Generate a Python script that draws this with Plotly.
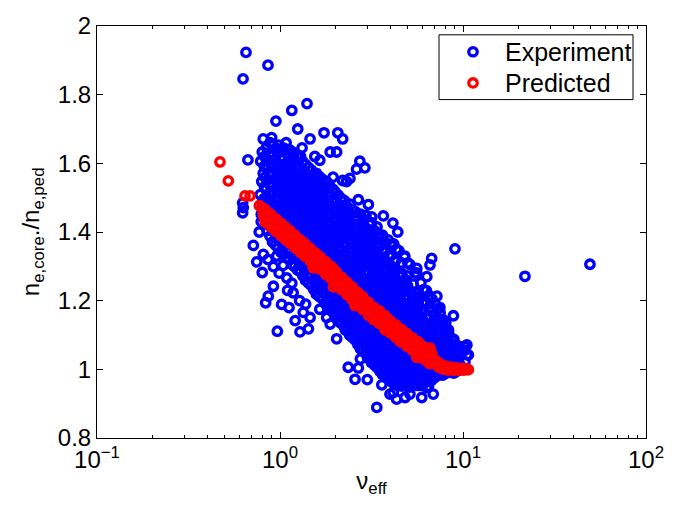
import plotly.graph_objects as go

# Measured core-to-pedestal density ratio versus effective collisionality
exp_nu = [
    0.79, 0.80, 0.78, 0.795, 0.81, 0.785, 0.80,
    0.85, 0.845, 0.86, 0.85, 0.84, 0.855, 0.85, 0.865, 0.845,
    0.91, 0.92, 0.905, 0.915, 0.91, 0.925, 0.90, 0.915, 0.91, 0.92, 0.905,
    0.975, 0.98, 0.97, 0.985, 0.975, 0.97, 0.98, 0.99, 0.975, 0.98, 0.97, 0.985,
    1.05, 1.04, 1.055, 1.045, 1.05, 1.06, 1.04, 1.05, 1.045, 1.055, 1.04, 1.05,
    1.12, 1.13, 1.115, 1.125, 1.12, 1.11, 1.13, 1.12, 1.125, 1.115, 1.13, 1.12, 1.125,
    1.20, 1.21, 1.195, 1.20, 1.21, 1.19, 1.205, 1.20, 1.21, 1.195, 1.20, 1.205, 1.20,
    1.29, 1.28, 1.30, 1.285, 1.29, 1.295, 1.28, 1.29, 1.30, 1.285, 1.29, 1.28, 1.295,
    1.38, 1.37, 1.39, 1.38, 1.375, 1.385, 1.38, 1.37, 1.39, 1.38, 1.375, 1.385, 1.38,
    1.48, 1.47, 1.49, 1.475, 1.48, 1.485, 1.47, 1.48, 1.49, 1.475, 1.48, 1.47, 1.485,
    1.58, 1.59, 1.575, 1.585, 1.59, 1.58, 1.60, 1.585, 1.575, 1.59, 1.58, 1.585, 1.595, 1.58,
    1.70, 1.69, 1.71, 1.70, 1.695, 1.705, 1.70, 1.69, 1.71, 1.70, 1.695, 1.705, 1.70, 1.69,
    1.82, 1.81, 1.83, 1.82, 1.815, 1.825, 1.82, 1.81, 1.83, 1.82, 1.815, 1.825, 1.82, 1.81,
    1.95, 1.94, 1.96, 1.95, 1.945, 1.955, 1.95, 1.94, 1.96, 1.95, 1.945, 1.955, 1.95, 1.96,
    2.09, 2.08, 2.10, 2.09, 2.085, 2.095, 2.09, 2.08, 2.10, 2.09, 2.085, 2.095, 2.09, 2.08,
    2.24, 2.23, 2.25, 2.24, 2.235, 2.245, 2.24, 2.23, 2.25, 2.24, 2.235, 2.245, 2.24, 2.25,
    2.40, 2.39, 2.41, 2.40, 2.395, 2.405, 2.40, 2.39, 2.41, 2.40, 2.395, 2.405, 2.40, 2.41,
    2.57, 2.56, 2.58, 2.57, 2.565, 2.575, 2.57, 2.56, 2.58, 2.57, 2.565, 2.575, 2.57, 2.58,
    2.75, 2.74, 2.76, 2.75, 2.745, 2.755, 2.75, 2.74, 2.76, 2.75, 2.745, 2.755, 2.75, 2.76, 2.75,
    2.95, 2.94, 2.96, 2.95, 2.945, 2.955, 2.95, 2.94, 2.96, 2.95, 2.945, 2.955, 2.95, 2.96, 2.95,
    3.16, 3.15, 3.17, 3.16, 3.155, 3.165, 3.16, 3.15, 3.17, 3.16, 3.155, 3.165, 3.16, 3.17, 3.16,
    3.39, 3.38, 3.40, 3.39, 3.385, 3.395, 3.39, 3.38, 3.40, 3.39, 3.385, 3.395, 3.39, 3.40, 3.39,
    3.63, 3.62, 3.64, 3.63, 3.625, 3.635, 3.63, 3.62, 3.64, 3.63, 3.625, 3.635, 3.63, 3.64, 3.63,
    3.89, 3.88, 3.90, 3.89, 3.885, 3.895, 3.89, 3.88, 3.90, 3.89, 3.885, 3.895, 3.89, 3.90,
    4.17, 4.16, 4.18, 4.17, 4.165, 4.175, 4.17, 4.16, 4.18, 4.17, 4.165, 4.175, 4.17, 4.18,
    4.47, 4.46, 4.48, 4.47, 4.465, 4.475, 4.47, 4.46, 4.48, 4.47, 4.465, 4.475, 4.47,
    4.79, 4.78, 4.80, 4.79, 4.785, 4.795, 4.79, 4.78, 4.80, 4.79, 4.785, 4.795, 4.79,
    5.13, 5.12, 5.14, 5.13, 5.125, 5.135, 5.13, 5.12, 5.14, 5.13, 5.125, 5.135,
    5.50, 5.49, 5.51, 5.50, 5.495, 5.505, 5.50, 5.49, 5.51, 5.50, 5.495,
    5.89, 5.88, 5.90, 5.89, 5.885, 5.895, 5.89, 5.88, 5.90, 5.89, 5.885,
    6.31, 6.30, 6.32, 6.31, 6.305, 6.315, 6.31, 6.30, 6.32, 6.31,
    6.76, 6.75, 6.77, 6.76, 6.755, 6.765, 6.76, 6.75, 6.77,
    7.24, 7.23, 7.25, 7.24, 7.235, 7.245, 7.24, 7.25,
    7.76, 7.75, 7.77, 7.76, 7.755, 7.765, 7.76,
    8.32, 8.30, 8.34, 8.32, 8.31, 8.33,
    8.91, 8.90, 8.93, 8.91, 8.92,
    9.55, 9.54, 9.57, 9.55,
    10.2, 10.25, 10.22,
    # second pass through the main cloud
    0.822, 0.826, 0.818, 0.822, 0.83, 0.82, 0.824,
    0.881, 0.876, 0.886, 0.88, 0.884, 0.878, 0.881, 0.889, 0.875, 0.882,
    0.944, 0.95, 0.94, 0.946, 0.938, 0.944, 0.952, 0.942, 0.947, 0.94, 0.945,
    1.012, 1.02, 1.008, 1.015, 1.01, 1.018, 1.005, 1.012, 1.02, 1.01, 1.015, 1.008,
    1.084, 1.09, 1.08, 1.086, 1.078, 1.084, 1.092, 1.082, 1.088, 1.08, 1.085, 1.09,
    1.161, 1.168, 1.155, 1.162, 1.17, 1.158, 1.164, 1.16, 1.166, 1.156, 1.162, 1.168, 1.16,
    1.245, 1.252, 1.24, 1.247, 1.255, 1.242, 1.248, 1.244, 1.25, 1.24, 1.246, 1.253, 1.245,
    1.334, 1.342, 1.328, 1.336, 1.345, 1.33, 1.338, 1.333, 1.34, 1.328, 1.335, 1.343, 1.334,
    1.429, 1.437, 1.422, 1.43, 1.44, 1.425, 1.433, 1.428, 1.435, 1.422, 1.43, 1.438, 1.429,
    1.531, 1.54, 1.524, 1.532, 1.542, 1.527, 1.535, 1.53, 1.537, 1.524, 1.532, 1.54, 1.531,
    1.641, 1.65, 1.634, 1.642, 1.652, 1.636, 1.645, 1.64, 1.647, 1.634, 1.642, 1.65, 1.641, 1.636,
    1.758, 1.768, 1.75, 1.76, 1.77, 1.753, 1.762, 1.757, 1.765, 1.75, 1.76, 1.768, 1.758, 1.752,
    1.884, 1.895, 1.875, 1.886, 1.897, 1.879, 1.888, 1.883, 1.891, 1.875, 1.886, 1.895, 1.884, 1.878,
    2.018, 2.03, 2.01, 2.02, 2.032, 2.012, 2.022, 2.017, 2.026, 2.008, 2.02, 2.03, 2.018, 2.012,
    2.163, 2.175, 2.153, 2.165, 2.178, 2.157, 2.167, 2.162, 2.171, 2.153, 2.165, 2.175, 2.163, 2.157,
    2.317, 2.33, 2.306, 2.32, 2.333, 2.31, 2.322, 2.316, 2.326, 2.306, 2.32, 2.33, 2.317, 2.31,
    2.483, 2.497, 2.471, 2.486, 2.5, 2.476, 2.488, 2.482, 2.493, 2.471, 2.486, 2.497, 2.483, 2.476,
    2.661, 2.676, 2.648, 2.664, 2.679, 2.653, 2.666, 2.66, 2.672, 2.648, 2.664, 2.676, 2.661, 2.653,
    2.851, 2.867, 2.837, 2.854, 2.87, 2.842, 2.857, 2.85, 2.863, 2.837, 2.854, 2.867, 2.851, 2.842, 2.86,
    3.055, 3.072, 3.04, 3.058, 3.075, 3.045, 3.061, 3.054, 3.068, 3.04, 3.058, 3.072, 3.055, 3.045, 3.064,
    3.273, 3.291, 3.257, 3.276, 3.295, 3.262, 3.28, 3.272, 3.287, 3.257, 3.276, 3.291, 3.273, 3.262, 3.283,
    3.508, 3.527, 3.49, 3.511, 3.531, 3.496, 3.515, 3.507, 3.523, 3.49, 3.511, 3.527, 3.508, 3.496, 3.518,
    3.758, 3.779, 3.739, 3.762, 3.783, 3.745, 3.766, 3.757, 3.774, 3.739, 3.762, 3.779, 3.758, 3.745, 3.77,
    4.027, 4.05, 4.007, 4.031, 4.054, 4.013, 4.035, 4.026, 4.044, 4.007, 4.031, 4.05, 4.027, 4.013, 4.04,
    4.315, 4.34, 4.293, 4.319, 4.344, 4.3, 4.324, 4.314, 4.333, 4.293, 4.319, 4.34, 4.315, 4.3, 4.33,
    4.624, 4.65, 4.6, 4.628, 4.655, 4.607, 4.633, 4.623, 4.643, 4.6, 4.628, 4.65, 4.624, 4.607,
    4.955, 4.983, 4.93, 4.96, 4.988, 4.937, 4.965, 4.954, 4.975, 4.93, 4.96, 4.983, 4.955,
    5.309, 5.339, 5.282, 5.314, 5.345, 5.29, 5.32, 5.308, 5.331, 5.282, 5.314, 5.339,
    5.689, 5.72, 5.66, 5.694, 5.727, 5.668, 5.7, 5.688, 5.712, 5.66, 5.694,
    6.095, 6.13, 6.065, 6.1, 6.136, 6.073, 6.107, 6.094, 6.12, 6.065, 6.1,
    6.531, 6.568, 6.498, 6.537, 6.575, 6.507, 6.544, 6.53, 6.557, 6.498,
    6.998, 7.037, 6.963, 7.004, 7.045, 6.972, 7.011, 6.997, 7.026,
    7.499, 7.541, 7.461, 7.505, 7.549, 7.471, 7.513, 7.498,
    8.035, 8.08, 7.995, 8.042, 8.088, 8.005, 8.05,
    8.61, 8.658, 8.567, 8.617, 8.666,
    9.226, 9.278, 9.18, 9.234,
    # third pass through the densest part
    1.065, 1.07, 1.06, 1.066, 1.072, 1.062, 1.068,
    1.141, 1.147, 1.136, 1.143, 1.149, 1.138, 1.145, 1.14,
    1.221, 1.228, 1.215, 1.223, 1.23, 1.218, 1.225, 1.22,
    1.31, 1.318, 1.303, 1.312, 1.32, 1.306, 1.314, 1.309,
    1.404, 1.412, 1.397, 1.406, 1.415, 1.4, 1.408, 1.403,
    1.505, 1.514, 1.497, 1.507, 1.517, 1.5, 1.51, 1.504,
    1.613, 1.622, 1.604, 1.615, 1.625, 1.607, 1.618, 1.612, 1.62, 1.606,
    1.728, 1.738, 1.719, 1.73, 1.741, 1.722, 1.733, 1.727, 1.736, 1.72,
    1.851, 1.862, 1.841, 1.853, 1.865, 1.845, 1.856, 1.85, 1.86, 1.842, 1.854,
    1.983, 1.995, 1.972, 1.985, 1.998, 1.976, 1.988, 1.982, 1.992, 1.973, 1.986,
    2.125, 2.138, 2.113, 2.127, 2.141, 2.117, 2.13, 2.124, 2.135, 2.114, 2.128,
    2.277, 2.291, 2.264, 2.28, 2.294, 2.268, 2.283, 2.276, 2.288, 2.265, 2.28, 2.272,
    2.44, 2.455, 2.426, 2.443, 2.458, 2.431, 2.446, 2.439, 2.452, 2.427, 2.443, 2.435,
    2.614, 2.63, 2.599, 2.617, 2.634, 2.604, 2.621, 2.613, 2.627, 2.6, 2.617, 2.608,
    2.80, 2.817, 2.784, 2.804, 2.821, 2.79, 2.808, 2.799, 2.814, 2.785, 2.804, 2.794,
    3.0, 3.018, 2.983, 3.004, 3.022, 2.989, 3.008, 2.999, 3.015, 2.984, 3.004, 2.993, 3.011,
    3.215, 3.234, 3.197, 3.219, 3.238, 3.203, 3.223, 3.214, 3.231, 3.198, 3.219, 3.207, 3.227,
    3.447, 3.468, 3.428, 3.451, 3.472, 3.434, 3.456, 3.446, 3.464, 3.429, 3.451, 3.438, 3.46,
    3.692, 3.714, 3.671, 3.696, 3.719, 3.678, 3.701, 3.691, 3.71, 3.672, 3.696, 3.683, 3.706,
    3.956, 3.98, 3.934, 3.961, 3.985, 3.941, 3.966, 3.955, 3.975, 3.935, 3.961, 3.947,
    4.241, 4.266, 4.217, 4.246, 4.271, 4.225, 4.251, 4.24, 4.262, 4.218, 4.246, 4.231,
    4.546, 4.573, 4.52, 4.551, 4.579, 4.529, 4.557, 4.545, 4.568, 4.521, 4.551,
    4.871, 4.9, 4.843, 4.877, 4.906, 4.853, 4.883, 4.87, 4.894, 4.844,
    5.217, 5.248, 5.187, 5.223, 5.254, 5.197, 5.229, 5.216, 5.242,
    5.594, 5.627, 5.562, 5.6, 5.634, 5.573, 5.606, 5.592,
    5.99, 6.025, 5.956, 5.997, 6.033, 5.967, 6.004,
    6.42, 6.458, 6.384, 6.427, 6.466, 6.395,
    # scattered shots
    0.652, 0.628, 0.86, 1.405, 1.16, 0.95, 1.25, 1.46, 1.74, 2.07,
    2.2, 1.88, 2.04, 1.65, 2.31, 2.41, 2.73, 2.91, 2.62, 3.04,
    2.68, 3.67, 3.17, 4.14, 0.668, 0.96, 0.90, 0.81, 1.08, 1.32,
    1.55, 4.4, 2.2, 1.95,
    0.625, 0.63, 0.625, 0.715, 0.811, 0.746, 0.80, 0.92, 0.863, 0.835,
    1.02, 0.92, 1.04, 1.21, 0.967, 1.286, 1.43, 2.04, 1.16, 1.09,
    1.18, 1.34, 1.46, 1.65, 1.80, 1.88, 0.79, 0.77, 0.86, 0.96,
    0.99, 1.1, 1.28, 1.38, 1.12,
    2.36, 2.68, 2.57, 3.38, 4.16, 4.82, 5.95, 6.88, 3.99, 4.34,
    5.13, 6.34, 6.48, 2.75, 8.5, 3.0, 3.6,
    9.04, 6.74, 6.6, 6.34, 7.2, 7.48, 8.86, 7.8, 8.33, 10.2,
    10.5, 9.4, 9.2, 8.67, 7.48, 6.88, 5.59, 5.59, 10.5, 10.7,
    5.0, 4.8, 21.8, 49.4,
]
exp_ratio = [
    1.452, 1.486, 1.509, 1.547, 1.571, 1.606, 1.633,
    1.404, 1.431, 1.468, 1.495, 1.524, 1.551, 1.583, 1.609, 1.646,
    1.371, 1.403, 1.426, 1.457, 1.484, 1.514, 1.536, 1.569, 1.592, 1.624, 1.655,
    1.354, 1.379, 1.411, 1.438, 1.468, 1.491, 1.522, 1.545, 1.577, 1.599, 1.631, 1.653,
    1.336, 1.365, 1.393, 1.426, 1.45, 1.481, 1.503, 1.534, 1.556, 1.588, 1.611, 1.644,
    1.32, 1.344, 1.375, 1.399, 1.438, 1.46, 1.492, 1.512, 1.545, 1.566, 1.597, 1.619, 1.64,
    1.299, 1.333, 1.356, 1.388, 1.411, 1.449, 1.471, 1.503, 1.525, 1.556, 1.576, 1.606, 1.63,
    1.285, 1.307, 1.339, 1.362, 1.395, 1.425, 1.458, 1.48, 1.511, 1.533, 1.565, 1.587, 1.62,
    1.259, 1.293, 1.315, 1.347, 1.369, 1.401, 1.429, 1.463, 1.484, 1.516, 1.537, 1.57, 1.596,
    1.245, 1.267, 1.3, 1.322, 1.355, 1.375, 1.407, 1.437, 1.469, 1.491, 1.523, 1.545, 1.58,
    1.219, 1.253, 1.273, 1.307, 1.327, 1.361, 1.381, 1.413, 1.442, 1.475, 1.496, 1.527, 1.547, 1.571,
    1.206, 1.227, 1.26, 1.28, 1.313, 1.334, 1.366, 1.387, 1.423, 1.449, 1.481, 1.501, 1.534, 1.555,
    1.18, 1.213, 1.234, 1.267, 1.287, 1.32, 1.341, 1.373, 1.393, 1.431, 1.455, 1.488, 1.509, 1.545,
    1.166, 1.187, 1.22, 1.24, 1.273, 1.294, 1.327, 1.347, 1.381, 1.407, 1.441, 1.463, 1.497, 1.523,
    1.14, 1.173, 1.194, 1.227, 1.247, 1.28, 1.301, 1.333, 1.354, 1.393, 1.415, 1.449, 1.471, 1.507,
    1.126, 1.147, 1.18, 1.2, 1.233, 1.254, 1.287, 1.307, 1.34, 1.367, 1.401, 1.423, 1.458, 1.491,
    1.1, 1.133, 1.154, 1.186, 1.207, 1.24, 1.261, 1.293, 1.315, 1.353, 1.375, 1.409, 1.433, 1.481,
    1.086, 1.107, 1.14, 1.16, 1.193, 1.214, 1.247, 1.267, 1.3, 1.327, 1.361, 1.383, 1.419, 1.459,
    1.06, 1.093, 1.114, 1.146, 1.167, 1.2, 1.221, 1.253, 1.274, 1.313, 1.335, 1.369, 1.393, 1.427, 1.452,
    1.046, 1.067, 1.1, 1.12, 1.153, 1.174, 1.207, 1.227, 1.26, 1.287, 1.321, 1.343, 1.379, 1.402, 1.448,
    1.02, 1.053, 1.074, 1.106, 1.127, 1.16, 1.181, 1.213, 1.234, 1.273, 1.295, 1.329, 1.353, 1.389, 1.427,
    1.006, 1.027, 1.06, 1.08, 1.113, 1.134, 1.167, 1.187, 1.22, 1.247, 1.281, 1.303, 1.339, 1.363, 1.415,
    0.985, 1.015, 1.035, 1.066, 1.087, 1.12, 1.141, 1.173, 1.194, 1.233, 1.255, 1.289, 1.313, 1.349, 1.391,
    0.975, 0.995, 1.027, 1.047, 1.08, 1.101, 1.133, 1.154, 1.187, 1.212, 1.248, 1.272, 1.313, 1.377,
    0.959, 0.991, 1.011, 1.043, 1.064, 1.097, 1.117, 1.15, 1.171, 1.208, 1.232, 1.268, 1.297, 1.365,
    0.953, 0.985, 1.005, 1.037, 1.058, 1.091, 1.111, 1.144, 1.165, 1.203, 1.229, 1.273, 1.345,
    0.955, 0.975, 1.007, 1.027, 1.059, 1.079, 1.111, 1.132, 1.165, 1.192, 1.231, 1.259, 1.327,
    0.948, 0.979, 0.999, 1.031, 1.051, 1.083, 1.103, 1.135, 1.157, 1.195, 1.225, 1.305,
    0.955, 0.975, 1.007, 1.027, 1.059, 1.079, 1.111, 1.133, 1.171, 1.207, 1.281,
    0.953, 0.985, 1.005, 1.037, 1.057, 1.089, 1.109, 1.143, 1.169, 1.213, 1.252,
    0.965, 0.985, 1.017, 1.037, 1.069, 1.089, 1.123, 1.149, 1.193, 1.229,
    0.969, 1.0, 1.019, 1.051, 1.071, 1.103, 1.127, 1.168, 1.205,
    0.985, 1.003, 1.033, 1.053, 1.085, 1.107, 1.145, 1.175,
    0.983, 1.013, 1.031, 1.063, 1.085, 1.121, 1.145,
    0.993, 1.01, 1.041, 1.061, 1.095, 1.115,
    0.989, 1.019, 1.037, 1.069, 1.087,
    0.998, 1.017, 1.048, 1.067,
    1.003, 1.022, 1.055,
    # second pass through the main cloud
    1.438, 1.468, 1.497, 1.531, 1.559, 1.592, 1.62,
    1.388, 1.418, 1.447, 1.479, 1.508, 1.538, 1.566, 1.597, 1.628, 1.66,
    1.362, 1.39, 1.417, 1.446, 1.472, 1.5, 1.528, 1.556, 1.582, 1.611, 1.64,
    1.341, 1.37, 1.397, 1.424, 1.455, 1.479, 1.51, 1.533, 1.563, 1.588, 1.617, 1.641,
    1.326, 1.35, 1.381, 1.41, 1.44, 1.466, 1.493, 1.52, 1.547, 1.573, 1.601, 1.629,
    1.306, 1.331, 1.362, 1.389, 1.42, 1.449, 1.476, 1.503, 1.531, 1.557, 1.584, 1.612, 1.634,
    1.29, 1.32, 1.347, 1.374, 1.403, 1.435, 1.462, 1.49, 1.516, 1.543, 1.57, 1.597, 1.624,
    1.272, 1.298, 1.326, 1.353, 1.38, 1.41, 1.442, 1.47, 1.497, 1.523, 1.55, 1.578, 1.605,
    1.252, 1.279, 1.307, 1.333, 1.36, 1.388, 1.417, 1.449, 1.476, 1.503, 1.53, 1.557, 1.588,
    1.232, 1.259, 1.287, 1.313, 1.34, 1.366, 1.393, 1.425, 1.456, 1.483, 1.51, 1.535, 1.562,
    1.212, 1.239, 1.266, 1.292, 1.318, 1.345, 1.372, 1.398, 1.431, 1.462, 1.488, 1.514, 1.54, 1.562,
    1.193, 1.22, 1.246, 1.273, 1.3, 1.326, 1.353, 1.378, 1.408, 1.44, 1.468, 1.495, 1.522, 1.549,
    1.173, 1.2, 1.227, 1.253, 1.28, 1.307, 1.334, 1.36, 1.388, 1.418, 1.45, 1.477, 1.505, 1.532,
    1.153, 1.18, 1.207, 1.233, 1.26, 1.287, 1.314, 1.34, 1.367, 1.4, 1.43, 1.458, 1.486, 1.515,
    1.133, 1.16, 1.187, 1.213, 1.24, 1.267, 1.294, 1.32, 1.347, 1.38, 1.41, 1.438, 1.466, 1.498,
    1.113, 1.14, 1.167, 1.193, 1.22, 1.247, 1.274, 1.3, 1.327, 1.36, 1.39, 1.418, 1.446, 1.476,
    1.093, 1.12, 1.147, 1.173, 1.2, 1.227, 1.254, 1.28, 1.307, 1.34, 1.368, 1.396, 1.426, 1.465,
    1.073, 1.1, 1.127, 1.153, 1.18, 1.207, 1.234, 1.26, 1.287, 1.32, 1.348, 1.376, 1.406, 1.44,
    1.053, 1.08, 1.107, 1.133, 1.16, 1.187, 1.214, 1.24, 1.267, 1.3, 1.328, 1.356, 1.386, 1.415, 1.437,
    1.033, 1.06, 1.087, 1.113, 1.14, 1.167, 1.194, 1.22, 1.247, 1.28, 1.308, 1.336, 1.366, 1.396, 1.425,
    1.013, 1.04, 1.067, 1.093, 1.12, 1.147, 1.174, 1.2, 1.227, 1.26, 1.288, 1.316, 1.346, 1.376, 1.404,
    0.995, 1.022, 1.047, 1.073, 1.1, 1.127, 1.154, 1.18, 1.207, 1.24, 1.268, 1.296, 1.326, 1.356, 1.388,
    0.978, 1.005, 1.031, 1.057, 1.083, 1.11, 1.137, 1.163, 1.19, 1.222, 1.25, 1.28, 1.31, 1.342, 1.37,
    0.966, 0.992, 1.018, 1.044, 1.07, 1.097, 1.123, 1.15, 1.177, 1.208, 1.238, 1.268, 1.298, 1.33, 1.362,
    0.958, 0.984, 1.01, 1.036, 1.063, 1.089, 1.115, 1.142, 1.169, 1.2, 1.23, 1.258, 1.288, 1.32, 1.35,
    0.951, 0.977, 1.003, 1.029, 1.055, 1.082, 1.108, 1.135, 1.162, 1.193, 1.222, 1.25, 1.28, 1.31,
    0.95, 0.975, 1.0, 1.026, 1.052, 1.078, 1.104, 1.13, 1.156, 1.186, 1.215, 1.243, 1.272,
    0.951, 0.976, 1.002, 1.028, 1.054, 1.08, 1.106, 1.132, 1.158, 1.188, 1.218, 1.248,
    0.953, 0.979, 1.005, 1.031, 1.057, 1.083, 1.109, 1.135, 1.162, 1.192, 1.222,
    0.958, 0.984, 1.01, 1.036, 1.062, 1.088, 1.114, 1.14, 1.168, 1.198, 1.232,
    0.966, 0.992, 1.018, 1.044, 1.07, 1.096, 1.122, 1.15, 1.18, 1.215,
    0.976, 1.0, 1.025, 1.05, 1.076, 1.102, 1.13, 1.16, 1.192,
    0.984, 1.008, 1.032, 1.058, 1.084, 1.112, 1.14, 1.165,
    0.988, 1.012, 1.036, 1.062, 1.088, 1.115, 1.135,
    0.991, 1.015, 1.04, 1.064, 1.09,
    0.994, 1.018, 1.043, 1.068,
    # third pass through the densest part
    1.442, 1.468, 1.494, 1.52, 1.546, 1.572, 1.598,
    1.425, 1.452, 1.478, 1.503, 1.53, 1.556, 1.583, 1.607,
    1.412, 1.438, 1.463, 1.49, 1.516, 1.541, 1.567, 1.592,
    1.395, 1.42, 1.447, 1.472, 1.499, 1.524, 1.551, 1.577,
    1.38, 1.406, 1.432, 1.458, 1.484, 1.51, 1.536, 1.562,
    1.366, 1.392, 1.418, 1.444, 1.47, 1.496, 1.522, 1.548,
    1.352, 1.378, 1.404, 1.43, 1.456, 1.482, 1.508, 1.534, 1.262, 1.236,
    1.338, 1.364, 1.39, 1.416, 1.442, 1.468, 1.494, 1.52, 1.248, 1.222,
    1.324, 1.35, 1.376, 1.402, 1.428, 1.454, 1.48, 1.506, 1.235, 1.208, 1.182,
    1.31, 1.336, 1.362, 1.388, 1.414, 1.44, 1.466, 1.492, 1.222, 1.195, 1.168,
    1.296, 1.322, 1.348, 1.374, 1.4, 1.426, 1.452, 1.478, 1.208, 1.182, 1.155,
    1.283, 1.309, 1.335, 1.361, 1.387, 1.413, 1.439, 1.465, 1.195, 1.168, 1.142, 1.115,
    1.269, 1.295, 1.321, 1.347, 1.373, 1.399, 1.425, 1.451, 1.18, 1.154, 1.128, 1.102,
    1.255, 1.281, 1.307, 1.333, 1.359, 1.385, 1.411, 1.437, 1.166, 1.14, 1.114, 1.088,
    1.241, 1.267, 1.293, 1.319, 1.345, 1.371, 1.397, 1.423, 1.152, 1.126, 1.1, 1.074,
    1.227, 1.253, 1.279, 1.305, 1.331, 1.357, 1.383, 1.409, 1.138, 1.112, 1.086, 1.06, 1.034,
    1.214, 1.24, 1.266, 1.292, 1.318, 1.344, 1.37, 1.396, 1.125, 1.099, 1.073, 1.047, 1.021,
    1.2, 1.226, 1.252, 1.278, 1.304, 1.33, 1.356, 1.382, 1.111, 1.085, 1.059, 1.033, 1.007,
    1.186, 1.212, 1.238, 1.264, 1.29, 1.316, 1.342, 1.368, 1.097, 1.071, 1.045, 1.019, 0.995,
    1.172, 1.198, 1.224, 1.25, 1.276, 1.302, 1.328, 1.083, 1.057, 1.031, 1.005, 0.981,
    1.158, 1.184, 1.21, 1.236, 1.262, 1.288, 1.314, 1.07, 1.044, 1.018, 0.993, 0.97,
    1.145, 1.171, 1.197, 1.223, 1.249, 1.275, 1.056, 1.03, 1.004, 0.98, 0.962,
    1.131, 1.157, 1.183, 1.209, 1.235, 1.261, 1.042, 1.016, 0.99, 0.966,
    1.117, 1.143, 1.169, 1.195, 1.221, 1.028, 1.002, 0.976, 0.96,
    1.103, 1.129, 1.155, 1.181, 1.207, 1.014, 0.988, 0.964,
    1.089, 1.115, 1.141, 1.167, 1.193, 1.0, 0.975,
    1.076, 1.102, 1.128, 1.154, 0.99, 0.97,
    # scattered shots
    1.923, 1.846, 1.886, 1.774, 1.754, 1.723, 1.70, 1.671, 1.689, 1.689,
    1.671, 1.633, 1.633, 1.609, 1.547, 1.556, 1.606, 1.587, 1.583, 1.48,
    1.494, 1.447, 1.444, 1.426, 1.61, 1.643, 1.675, 1.671, 1.66, 1.645,
    1.62, 1.40, 1.55, 1.56,
    1.485, 1.471, 1.456, 1.361, 1.335, 1.313, 1.282, 1.242, 1.213, 1.194,
    1.189, 1.299, 1.303, 1.142, 1.111, 1.109, 1.118, 1.089, 1.251, 1.266,
    1.223, 1.166, 1.151, 1.175, 1.151, 1.132, 1.43, 1.40, 1.32, 1.33,
    1.28, 1.23, 1.2, 1.19, 1.18,
    1.006, 1.004, 0.971, 0.889, 0.932, 0.918, 0.918, 0.928, 0.928, 0.913,
    0.928, 0.947, 0.951, 1.03, 0.994, 0.97, 0.955,
    1.351, 1.323, 1.304, 1.27, 1.213, 1.18, 1.156, 1.142, 1.109, 1.066,
    1.042, 1.042, 1.013, 1.071, 1.062, 1.094, 1.28, 1.294, 1.071, 1.042,
    1.31, 1.33, 1.271, 1.306,
]

# Model prediction for the same discharges
pred_nu = [
    0.47, 0.522, 0.644, 0.686, 0.771,
    0.80, 0.82, 0.84, 0.86, 0.88, 0.90, 0.92, 0.94, 0.96, 0.98,
    1.00, 1.02, 1.04, 1.06, 1.08, 1.10, 1.12, 1.14, 1.16, 1.18,
    1.20, 1.23, 1.26, 1.29, 1.32, 1.35, 1.38, 1.41, 1.44, 1.47,
    1.50, 1.54, 1.58, 1.62, 1.66, 1.70, 1.75, 1.80, 1.85, 1.90,
    1.95, 2.00, 2.06, 2.12, 2.18, 2.24, 2.30, 2.37, 2.44, 2.51,
    2.58, 2.65, 2.72, 2.80, 2.88, 2.96, 3.04, 3.12, 3.21, 3.30,
    3.40, 3.50, 3.60, 3.70, 3.81, 3.92, 4.03, 4.15, 4.27, 4.40,
    4.53, 4.66, 4.80, 4.94, 5.08, 5.23, 5.38, 5.54, 5.70, 5.87,
    6.04, 6.22, 6.40, 6.59, 6.78, 6.98, 7.18, 7.38, 7.58, 7.80,
    8.05, 8.30, 8.60, 8.90, 9.20, 9.50, 9.80, 10.1, 10.4, 10.7,
    1.52, 1.96, 2.57, 3.75, 4.52, 5.59, 6.6,
    0.81, 0.83, 0.85, 0.87, 0.89, 0.91, 0.93, 0.95, 0.97, 0.99,
    1.01, 1.03, 1.05, 1.07, 1.09, 1.11, 1.13, 1.15, 1.17, 1.19,
    1.215, 1.245, 1.275, 1.305, 1.335, 1.365, 1.395, 1.425, 1.455, 1.485,
    1.52, 1.56, 1.60, 1.64, 1.68, 1.725, 1.775, 1.825, 1.875, 1.925,
    1.975, 2.03, 2.09, 2.15, 2.21, 2.27, 2.335, 2.405, 2.475, 2.545,
    2.615, 2.685, 2.76, 2.84, 2.92, 3.00, 3.08, 3.165, 3.255, 3.35,
    3.45, 3.55, 3.65, 3.755, 3.865, 3.975, 4.09, 4.21, 4.335, 4.465,
    4.595, 4.73, 4.87, 5.01, 5.155, 5.305, 5.46, 5.62, 5.785, 5.955,
    6.13, 6.31, 6.495, 6.685, 6.88, 7.08, 7.28, 7.48, 7.69, 7.92,
    8.17, 8.45, 8.75, 9.05, 9.35, 9.65, 9.95, 10.25, 10.55,
    # upper and lower edges of the band
    0.83, 0.83, 0.89, 0.89, 0.95, 0.95, 1.01, 1.01, 1.07, 1.07,
    1.13, 1.13, 1.21, 1.21, 1.29, 1.29, 1.37, 1.37, 1.46, 1.46,
    1.56, 1.56, 1.66, 1.66, 1.78, 1.78, 1.90, 1.90, 2.03, 2.03,
    2.17, 2.17, 2.32, 2.32, 2.48, 2.48, 2.66, 2.66, 2.84, 2.84,
    3.05, 3.05, 3.26, 3.26, 3.49, 3.49, 3.74, 3.74, 4.0, 4.0,
    4.3, 4.3, 4.6, 4.6, 4.93, 4.93, 5.3, 5.3, 5.7, 5.7,
    6.1, 6.1, 6.55, 6.55,
]
pred_ratio = [
    1.604, 1.549, 1.505, 1.505, 1.477,
    1.471, 1.444, 1.452, 1.427, 1.452, 1.425, 1.434, 1.409, 1.434, 1.408,
    1.417, 1.393, 1.418, 1.392, 1.402, 1.378, 1.403, 1.378, 1.387, 1.364,
    1.390, 1.363, 1.371, 1.346, 1.371, 1.344, 1.353, 1.328, 1.353, 1.327,
    1.336, 1.311, 1.335, 1.308, 1.316, 1.291, 1.314, 1.287, 1.294, 1.269,
    1.293, 1.262, 1.269, 1.242, 1.265, 1.237, 1.245, 1.218, 1.241, 1.212,
    1.220, 1.194, 1.218, 1.189, 1.197, 1.171, 1.195, 1.168, 1.175, 1.149,
    1.172, 1.145, 1.152, 1.127, 1.150, 1.123, 1.131, 1.105, 1.128, 1.101,
    1.108, 1.083, 1.107, 1.079, 1.087, 1.061, 1.086, 1.058, 1.066, 1.040,
    1.065, 1.037, 1.046, 1.020, 1.044, 1.018, 1.024, 1.006, 1.014, 1.001,
    1.009, 0.998, 1.006, 0.997, 1.004, 0.998, 1.003, 0.998, 1.002, 0.999,
    1.296, 1.240, 1.186, 1.115, 1.082, 1.035, 1.062,
    1.452, 1.457, 1.434, 1.439, 1.443, 1.421, 1.425, 1.430, 1.408, 1.413,
    1.418, 1.396, 1.401, 1.406, 1.385, 1.390, 1.396, 1.374, 1.380, 1.385,
    1.363, 1.367, 1.371, 1.349, 1.353, 1.358, 1.335, 1.340, 1.345, 1.323,
    1.327, 1.331, 1.308, 1.312, 1.316, 1.293, 1.296, 1.300, 1.276, 1.280,
    1.284, 1.257, 1.259, 1.262, 1.238, 1.241, 1.244, 1.220, 1.222, 1.225,
    1.202, 1.206, 1.208, 1.184, 1.188, 1.192, 1.168, 1.172, 1.175, 1.152,
    1.155, 1.158, 1.134, 1.138, 1.141, 1.118, 1.122, 1.125, 1.102, 1.105,
    1.108, 1.086, 1.089, 1.093, 1.069, 1.074, 1.077, 1.054, 1.057, 1.062,
    1.038, 1.043, 1.046, 1.022, 1.026, 1.021, 1.012, 1.016, 1.004, 1.008,
    1.001, 1.004, 1.000, 1.003, 0.999, 1.002, 1.000, 1.001, 0.999,
    # upper and lower edges of the band
    1.465, 1.429, 1.451, 1.415, 1.438, 1.402, 1.426, 1.390, 1.414, 1.378,
    1.404, 1.368, 1.390, 1.354, 1.377, 1.341, 1.365, 1.329, 1.352, 1.316,
    1.339, 1.303, 1.327, 1.291, 1.313, 1.277, 1.300, 1.264, 1.283, 1.247,
    1.268, 1.232, 1.254, 1.218, 1.239, 1.203, 1.224, 1.188, 1.210, 1.174,
    1.193, 1.157, 1.180, 1.144, 1.170, 1.134, 1.156, 1.120, 1.142, 1.106,
    1.129, 1.093, 1.116, 1.080, 1.104, 1.068, 1.091, 1.055, 1.080, 1.044,
    1.066, 1.030, 1.053, 1.017,
]

assert len(exp_nu) == len(exp_ratio)
assert len(pred_nu) == len(pred_ratio)

x_tick_vals = [0.1, 1, 10, 100]
x_tick_text = ["10<sup>\u22121</sup>", "10<sup>0</sup>", "10<sup>1</sup>", "10<sup>2</sup>"]
x_minor_vals = [0.2, 0.3, 0.4, 0.5, 0.6, 0.7, 0.8, 0.9,
                2, 3, 4, 5, 6, 7, 8, 9,
                20, 30, 40, 50, 60, 70, 80, 90]
y_tick_vals = [0.8, 1.0, 1.2, 1.4, 1.6, 1.8, 2.0]
y_tick_text = ["0.8", "1", "1.2", "1.4", "1.6", "1.8", "2"]
legend_names = ["Experiment", "Predicted"]
series_colors = ["#0000ff", "#ff0000"]
x_title = "\u03bd<sub>eff</sub>"
y_title = "n<sub>e,core</sub>./n<sub>e,ped</sub>"

FONT = "Liberation Sans, Arial, Helvetica, sans-serif"
MARKER_SIZE = 8.5
MARKER_LINE = 3.3

fig = go.Figure()
for xs, ys, name, col in [(exp_nu, exp_ratio, legend_names[0], series_colors[0]),
                          (pred_nu, pred_ratio, legend_names[1], series_colors[1])]:
    fig.add_trace(go.Scatter(
        x=xs, y=ys, mode="markers", name=name, showlegend=False,
        marker=dict(symbol="circle-open", size=MARKER_SIZE, color=col,
                    line=dict(width=MARKER_LINE, color=col)),
    ))

axis_common = dict(
    showline=True, linecolor="black", linewidth=1, mirror="allticks",
    ticks="inside", ticklen=6, tickwidth=1, tickcolor="black",
    showgrid=False, zeroline=False,
    tickfont=dict(family=FONT, size=24, color="black"),
)

fig.update_xaxes(
    type="log", range=[-1, 2],
    tickmode="array", tickvals=x_tick_vals, ticktext=x_tick_text,
    minor=dict(tickmode="array", tickvals=x_minor_vals, ticks="inside",
               ticklen=3, tickcolor="black", showgrid=False),
    title=dict(text=x_title, font=dict(family=FONT, size=24, color="black"),
               standoff=0),
    **axis_common,
)
fig.update_yaxes(
    range=[0.8, 2.0],
    tickmode="array", tickvals=y_tick_vals, ticktext=y_tick_text,
    **axis_common,
)

# Boxed legend in the upper right corner of the axes (paper coordinates)
box_x0, box_x1 = 0.623, 0.9763
box_y0, box_y1 = 0.8214, 0.9786
sym_x = 0.6849
row_y = [0.9374, 0.8619]
rx, ry = 4.25 / 549, 4.25 / 420
shapes = [dict(type="rect", xref="paper", yref="paper", x0=box_x0, x1=box_x1,
               y0=box_y0, y1=box_y1, line=dict(color="black", width=1),
               fillcolor="white", layer="above")]
annotations = [dict(text=y_title, xref="paper", yref="paper", x=-0.118, y=0.5,
                    xanchor="center", yanchor="middle", textangle=-90, showarrow=False,
                    font=dict(family=FONT, size=24, color="black"))]
for name, col, yc in zip(legend_names, series_colors, row_y):
    shapes.append(dict(type="circle", xref="paper", yref="paper",
                       x0=sym_x - rx, x1=sym_x + rx, y0=yc - ry, y1=yc + ry,
                       line=dict(color=col, width=MARKER_LINE), layer="above"))
    annotations.append(dict(text=name, xref="paper", yref="paper", x=0.7401, y=yc,
                            xanchor="left", yanchor="middle", showarrow=False,
                            font=dict(family=FONT, size=25, color="black")))

fig.update_layout(
    width=679, height=507, autosize=False,
    margin=dict(l=97, r=33, t=18, b=69),
    paper_bgcolor="white", plot_bgcolor="white",
    font=dict(family=FONT, color="black"),
    showlegend=False,
    shapes=shapes,
    annotations=annotations,
)

fig.write_html("out.html")
